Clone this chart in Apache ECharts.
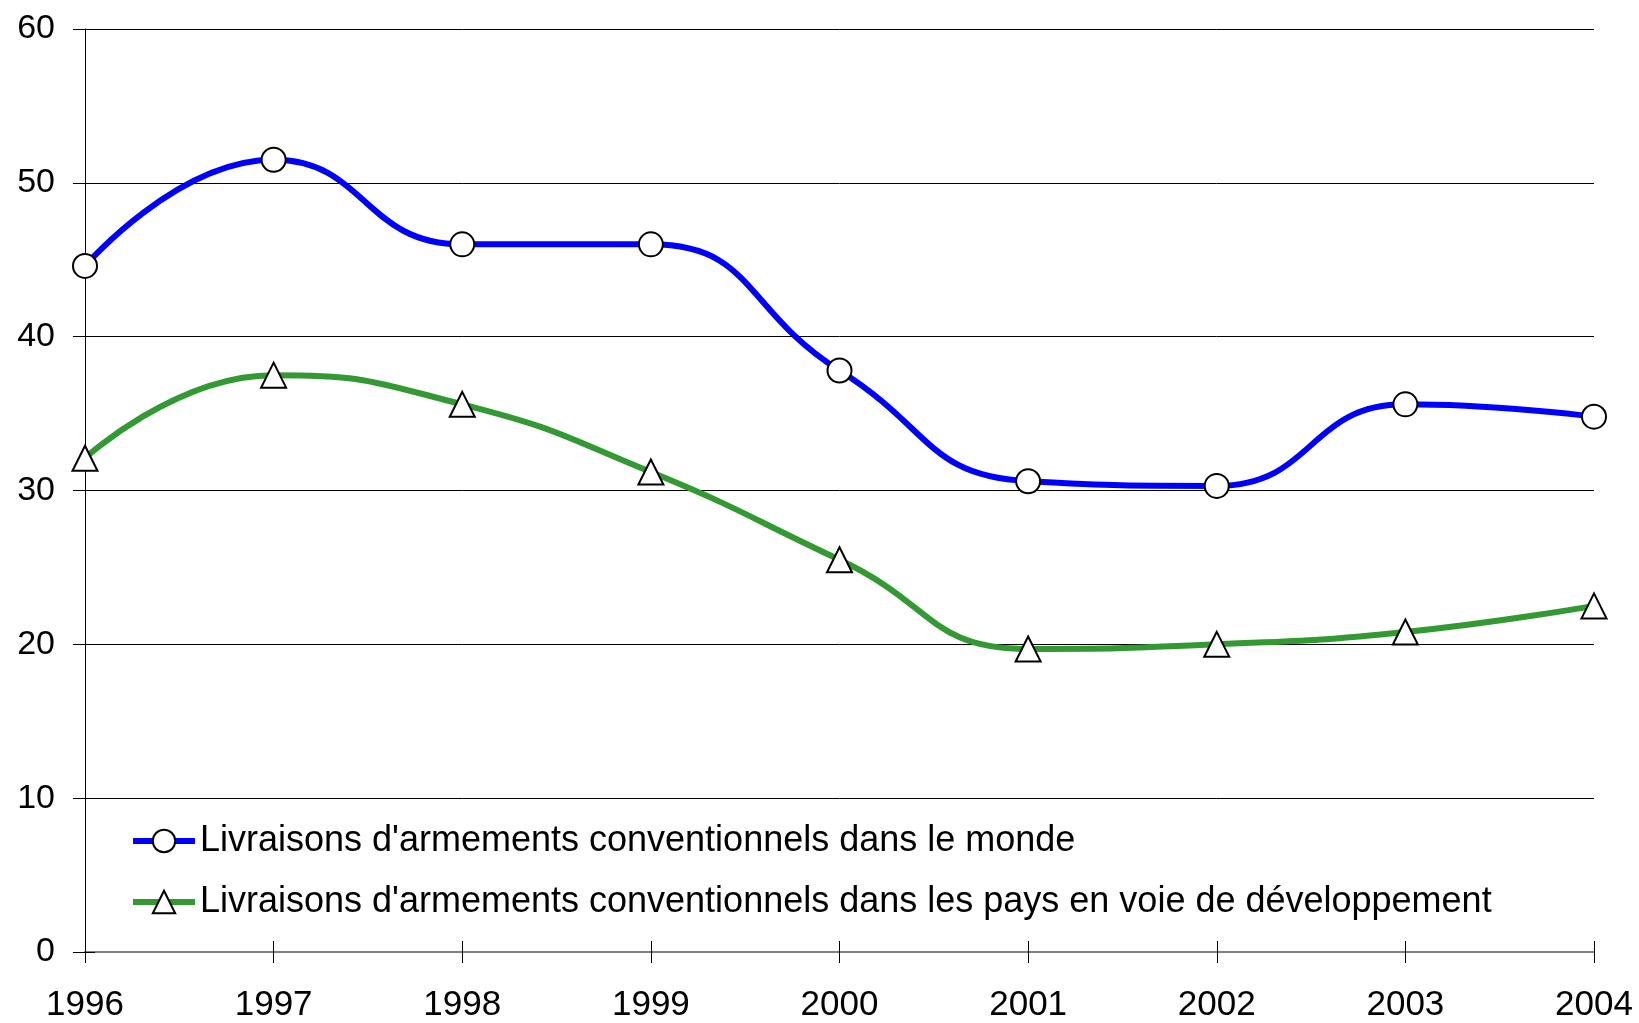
<!DOCTYPE html>
<html>
<head>
<meta charset="utf-8">
<script src="https://cdn.jsdelivr.net/npm/echarts@6/dist/echarts.min.js"></script>
<style>
    html, body { margin: 0; padding: 0; background: #fff; }
    #chart { width: 1639px; height: 1023px; }
</style>
</head>
<body>
<div id="chart"></div>
<script>
// Data
const years = ['1996', '1997', '1998', '1999', '2000', '2001', '2002', '2003', '2004'];
const monde = [44.6, 51.5, 46.0, 46.0, 37.8, 30.6, 30.3, 35.6, 34.8];
const paysDev = [32.1, 37.5, 35.6, 31.2, 25.5, 19.7, 20.0, 20.8, 22.5];
const seriesNames = [
    "Livraisons d'armements conventionnels dans le monde",
    "Livraisons d'armements conventionnels dans les pays en voie de développement"
];

const font = '"Liberation Sans", Arial, sans-serif';
const myChart = echarts.init(document.getElementById('chart'));

const markerStyle = {
    color: '#ffffff',
    borderColor: '#000000',
    borderWidth: 2
};

const option = {
    backgroundColor: '#ffffff',
    animation: false,
    textStyle: { fontFamily: font },
    grid: { left: 85, right: 45, top: 29, bottom: 70 },
    legend: {
        orient: 'vertical',
        left: 125,
        top: 816,
        itemWidth: 62,
        itemHeight: 28,
        itemGap: 21,
        lineStyle: { width: 6 },
        itemStyle: { borderWidth: 2, borderColor: '#000', color: '#fff' },
        textStyle: { fontSize: 36, lineHeight: 40, color: '#000', fontFamily: font },
        data: seriesNames
    },
    xAxis: [{
        type: 'category',
        data: years,
        boundaryGap: false,
        axisLine: { lineStyle: { color: '#808080', width: 2 } },
        axisTick: { show: true, inside: false, length: 11, lineStyle: { color: '#000', width: 1 } },
        axisLabel: { fontSize: 35, color: '#000', margin: 36, fontFamily: font },
        splitLine: { show: false }
    }, {
        // second copy only for the inner half of the crossing ticks
        type: 'category',
        data: years,
        boundaryGap: false,
        position: 'bottom',
        axisLine: { show: false },
        axisTick: { show: true, inside: true, length: 11, lineStyle: { color: '#000', width: 1 } },
        axisLabel: { show: false },
        splitLine: { show: false }
    }],
    yAxis: [{
        type: 'value',
        min: 0,
        max: 60,
        interval: 10,
        axisLine: { show: true, lineStyle: { color: '#000', width: 1 } },
        axisTick: { show: true, inside: false, length: 12, lineStyle: { color: '#000', width: 1 } },
        axisLabel: { fontSize: 34, color: '#000', margin: 30, fontFamily: font },
        splitLine: { show: true, lineStyle: { color: '#000', width: 1 } }
    }, {
        type: 'value',
        min: 0,
        max: 60,
        interval: 10,
        position: 'left',
        axisLine: { show: false },
        axisTick: { show: true, inside: true, length: 10, lineStyle: { color: '#000', width: 1 } },
        axisLabel: { show: false },
        splitLine: { show: false }
    }],
    series: [{
        name: seriesNames[0],
        type: 'line',
        data: monde,
        smooth: 0.5,
        symbol: 'circle',
        symbolSize: 24,
        lineStyle: { color: '#0000ff', width: 6 },
        itemStyle: markerStyle,
        z: 3
    }, {
        name: seriesNames[1],
        type: 'line',
        data: paysDev,
        smooth: 0.5,
        symbol: 'triangle',
        symbolSize: 25,
        lineStyle: { color: '#339933', width: 6 },
        itemStyle: markerStyle,
        z: 2
    }]
};

myChart.setOption(option, true);
</script>
</body>
</html>
